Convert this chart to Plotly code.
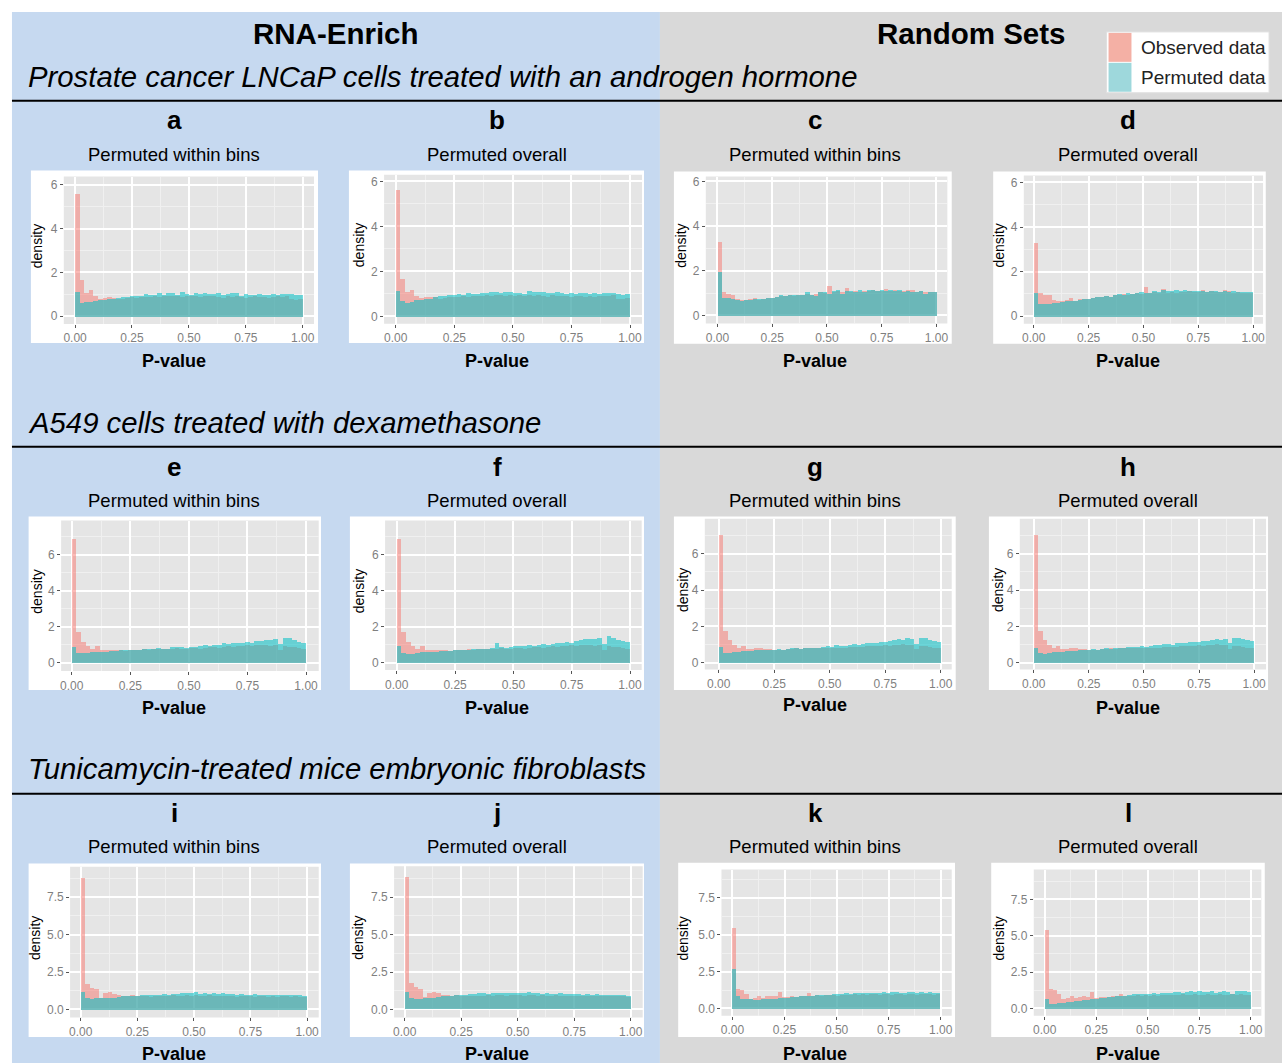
import numpy as np
import plotly.graph_objects as go

W, H = 1284, 1064

# ---------------- data (density per P-value bin, 50 bins of width 0.02) ----------------
BIN_WIDTH = 0.02
BIN_CENTERS = [round(BIN_WIDTH * (k + 0.5), 3) for k in range(50)]
X_TICKS = [0, 0.25, 0.5, 0.75, 1.0]
X_TICK_LABELS = ["0.00", "0.25", "0.50", "0.75", "1.00"]
Y_TICKS_ROW12 = [0, 2, 4, 6]
Y_TICK_LABELS_ROW12 = ["0", "2", "4", "6"]
Y_TICKS_ROW3 = [0, 2.5, 5.0, 7.5]
Y_TICK_LABELS_ROW3 = ["0.0", "2.5", "5.0", "7.5"]

# Row 1: Prostate cancer LNCaP
obs_rna_lncap = [5.62, 1.66, 1.10, 1.20, 0.92, 0.82, 0.85, 0.88, 0.86, 0.80,
                 0.82, 0.86, 0.88, 0.86, 0.90, 0.88, 0.90, 0.93, 0.90, 0.95,
                 0.92, 0.95, 0.95, 0.90, 0.96, 0.92, 0.95, 0.90, 0.95, 0.92,
                 0.95, 0.90, 0.86, 0.95, 0.90, 0.92, 0.90, 0.86, 0.90, 0.93,
                 0.88, 0.90, 0.86, 0.90, 0.93, 0.90, 0.95, 0.80, 0.78, 0.82]
perm_a = [1.12, 0.64, 0.65, 0.68, 0.70, 0.74, 0.78, 0.80, 0.82, 0.84,
          0.88, 0.90, 0.95, 0.96, 0.92, 1.02, 1.00, 1.00, 1.06, 1.00,
          1.06, 1.08, 1.00, 1.12, 1.05, 1.00, 1.08, 1.04, 1.10, 1.05,
          1.04, 1.08, 1.00, 1.02, 1.06, 1.08, 0.94, 1.05, 1.00, 1.00,
          1.05, 1.00, 1.00, 1.05, 1.00, 1.02, 1.05, 1.04, 1.00, 1.00]
perm_b = [1.15, 0.68, 0.60, 0.66, 0.74, 0.76, 0.80, 0.80, 0.86, 0.90,
          0.92, 0.95, 0.96, 1.00, 0.95, 1.04, 1.00, 1.02, 1.05, 1.06,
          1.08, 1.10, 1.04, 1.10, 1.08, 1.05, 1.06, 1.00, 1.12, 1.10,
          1.08, 1.10, 1.06, 1.05, 1.10, 1.04, 1.00, 1.06, 1.02, 1.05,
          1.04, 1.02, 1.06, 1.00, 1.05, 1.03, 1.06, 1.00, 0.98, 1.00]
obs_rand_lncap = [3.30, 1.05, 0.96, 0.95, 0.76, 0.70, 0.72, 0.76, 0.82, 0.72,
                  0.78, 0.80, 0.80, 0.85, 0.88, 0.90, 0.92, 0.90, 0.95, 0.95,
                  1.00, 0.95, 1.00, 1.05, 1.02, 1.35, 1.05, 1.10, 1.05, 1.26,
                  1.05, 1.10, 1.05, 1.10, 1.10, 1.15, 1.10, 1.12, 1.20, 1.12,
                  1.15, 1.10, 1.10, 1.18, 1.15, 1.08, 1.10, 1.05, 1.05, 1.05]
perm_c = [1.95, 0.80, 0.80, 0.75, 0.70, 0.68, 0.70, 0.72, 0.75, 0.76,
          0.78, 0.80, 0.82, 0.85, 0.95, 0.90, 0.92, 0.92, 0.93, 0.95,
          1.05, 0.95, 0.90, 1.05, 1.05, 1.00, 1.10, 1.15, 1.00, 1.10,
          1.10, 1.05, 1.15, 1.05, 1.15, 1.15, 1.10, 1.15, 1.10, 1.15,
          1.10, 1.15, 1.05, 1.10, 1.05, 1.06, 1.10, 1.00, 1.05, 1.05]
perm_d = [1.05, 0.55, 0.55, 0.56, 0.60, 0.62, 0.65, 0.68, 0.70, 0.72,
          0.75, 0.78, 0.80, 0.85, 0.86, 0.90, 0.92, 0.90, 0.95, 1.00,
          0.96, 1.05, 1.00, 1.05, 1.10, 1.05, 1.06, 1.15, 1.10, 1.20,
          1.15, 1.16, 1.20, 1.15, 1.20, 1.15, 1.16, 1.15, 1.16, 1.10,
          1.15, 1.16, 1.10, 1.15, 1.10, 1.15, 1.10, 1.12, 1.10, 1.10]

# Row 2: A549 + dexamethasone
obs_rna_a549 = [6.90, 1.75, 1.20, 0.95, 0.80, 0.95, 0.72, 0.76, 0.76, 0.75,
                0.72, 0.70, 0.72, 0.74, 0.72, 0.78, 0.75, 0.80, 0.78, 0.80,
                0.82, 0.80, 0.85, 0.82, 0.80, 0.85, 0.84, 0.80, 0.85, 0.88,
                0.90, 0.85, 0.90, 0.95, 0.90, 0.95, 0.96, 1.00, 0.95, 1.00,
                1.00, 1.02, 0.98, 1.00, 0.75, 0.95, 0.92, 0.88, 0.85, 0.80]
perm_e = [0.90, 0.55, 0.55, 0.56, 0.60, 0.60, 0.62, 0.65, 0.66, 0.70,
          0.72, 0.72, 0.75, 0.75, 0.72, 0.80, 0.80, 0.78, 0.85, 0.82,
          0.80, 0.90, 0.88, 0.92, 0.85, 0.92, 0.90, 0.95, 1.00, 0.98,
          1.02, 1.00, 1.10, 1.05, 1.15, 1.10, 1.15, 1.20, 1.15, 1.25,
          1.25, 1.30, 1.30, 1.35, 1.05, 1.40, 1.38, 1.30, 1.20, 1.15]
perm_f = [0.95, 0.55, 0.50, 0.50, 0.55, 0.60, 0.60, 0.62, 0.65, 0.68,
          0.70, 0.70, 0.72, 0.72, 0.75, 0.75, 0.78, 0.80, 0.78, 0.82,
          0.85, 1.10, 0.88, 0.85, 0.90, 0.95, 0.96, 0.95, 1.00, 0.98,
          1.00, 1.05, 1.00, 1.05, 1.10, 1.15, 1.20, 1.15, 1.25, 1.30,
          1.35, 1.35, 1.35, 1.40, 1.05, 1.50, 1.40, 1.30, 1.25, 1.20]
obs_rand_a549 = [7.05, 1.75, 1.25, 1.00, 0.80, 0.95, 0.75, 0.75, 0.80, 0.85,
                 0.78, 0.75, 0.72, 0.74, 0.72, 0.76, 0.75, 0.80, 0.78, 0.80,
                 0.82, 0.80, 0.85, 0.82, 0.80, 0.85, 0.84, 0.82, 0.85, 0.88,
                 0.90, 0.86, 0.90, 0.95, 0.92, 0.95, 0.96, 1.00, 0.95, 1.00,
                 1.00, 1.02, 0.98, 1.00, 0.75, 0.95, 0.92, 0.88, 0.85, 0.82]
perm_g = [0.90, 0.55, 0.55, 0.60, 0.62, 0.65, 0.65, 0.68, 0.70, 0.70,
          0.72, 0.72, 0.74, 0.75, 0.72, 0.78, 0.80, 0.82, 0.78, 0.85,
          0.82, 0.84, 0.85, 0.88, 0.92, 0.90, 1.00, 0.92, 0.95, 1.00,
          1.02, 1.00, 1.05, 1.08, 1.10, 1.12, 1.15, 1.18, 1.20, 1.25,
          1.30, 1.28, 1.35, 1.30, 1.05, 1.40, 1.35, 1.25, 1.20, 1.15]
perm_h = [0.85, 0.55, 0.52, 0.55, 0.58, 0.60, 0.62, 0.64, 0.66, 0.68,
          0.70, 0.72, 0.72, 0.75, 0.74, 0.78, 0.80, 0.76, 0.82, 0.84,
          0.85, 0.88, 0.86, 0.90, 0.92, 0.90, 0.95, 0.98, 1.00, 1.02,
          1.05, 1.00, 1.08, 1.10, 1.10, 1.15, 1.18, 1.15, 1.20, 1.22,
          1.25, 1.30, 1.28, 1.32, 1.10, 1.40, 1.35, 1.30, 1.28, 1.20]

# Row 3: Tunicamycin MEF
obs_rna_mef = [8.80, 1.73, 1.47, 1.35, 0.80, 1.10, 1.18, 1.05, 0.95, 0.92,
               0.90, 0.95, 0.90, 0.88, 0.90, 0.85, 0.90, 0.88, 0.92, 0.90,
               0.95, 0.92, 0.90, 0.95, 0.92, 0.95, 0.90, 0.92, 0.95, 0.90,
               0.92, 0.88, 0.90, 0.92, 0.85, 0.90, 0.88, 0.90, 0.85, 0.88,
               0.90, 0.85, 0.88, 0.85, 0.90, 0.88, 0.85, 0.88, 0.85, 0.82]
perm_i = [1.20, 0.75, 0.70, 0.75, 0.75, 0.75, 0.80, 0.80, 0.85, 0.90,
          0.90, 0.92, 0.92, 0.95, 0.95, 1.00, 0.98, 1.00, 1.05, 1.00,
          1.05, 1.05, 1.08, 1.10, 1.10, 1.15, 1.05, 1.10, 1.05, 1.08,
          1.05, 1.10, 1.05, 1.05, 1.00, 1.05, 1.00, 1.00, 1.05, 0.98,
          1.00, 0.98, 0.95, 1.00, 0.95, 1.00, 0.98, 0.95, 0.95, 0.92]
perm_j = [1.15, 0.72, 0.70, 0.70, 0.72, 0.75, 0.75, 0.80, 0.85, 0.85,
          0.90, 0.92, 0.95, 0.95, 1.00, 1.00, 1.05, 1.05, 1.02, 1.05,
          1.08, 1.05, 1.05, 1.10, 1.10, 1.05, 1.10, 1.15, 1.10, 1.05,
          1.00, 1.05, 1.00, 1.00, 1.05, 1.00, 1.00, 1.02, 1.00, 0.95,
          1.00, 0.98, 1.00, 0.95, 0.98, 0.95, 0.95, 0.95, 0.92, 0.85]
obs_rand_mef = [5.45, 1.35, 1.30, 1.00, 0.70, 0.72, 0.90, 0.72, 0.85, 0.88,
                0.85, 1.15, 0.78, 0.80, 0.85, 0.82, 0.88, 0.90, 1.05, 0.90,
                0.92, 0.90, 0.95, 0.92, 0.95, 0.90, 0.95, 0.92, 0.95, 0.98,
                0.95, 0.98, 0.95, 1.00, 0.98, 0.95, 1.00, 0.98, 0.95, 1.00,
                0.98, 0.95, 1.00, 0.98, 0.95, 1.00, 0.98, 1.00, 0.95, 0.98]
perm_k = [2.70, 0.85, 0.70, 0.70, 0.65, 0.62, 0.62, 0.65, 0.68, 0.70,
          0.70, 0.72, 0.72, 0.75, 0.80, 0.80, 0.85, 0.85, 0.88, 0.90,
          0.92, 0.95, 0.95, 0.95, 1.00, 1.00, 0.98, 1.05, 1.00, 1.05,
          1.05, 1.05, 1.10, 1.10, 1.05, 1.10, 1.12, 1.10, 1.15, 1.12,
          1.10, 1.10, 1.15, 1.12, 1.05, 1.15, 1.10, 1.15, 1.10, 1.05]
perm_l = [0.65, 0.35, 0.35, 0.38, 0.40, 0.45, 0.50, 0.52, 0.55, 0.60,
          0.62, 0.65, 0.70, 0.75, 0.75, 0.80, 0.85, 0.88, 0.90, 0.92,
          0.95, 1.00, 1.05, 1.00, 1.05, 1.05, 1.10, 1.05, 1.10, 1.12,
          1.10, 1.15, 1.15, 1.10, 1.15, 1.20, 1.15, 1.20, 1.15, 1.15,
          1.20, 1.10, 1.15, 1.20, 1.15, 1.05, 1.20, 1.20, 1.20, 1.15]

PANEL_LETTERS = ["a", "b", "c", "d", "e", "f", "g", "h", "i", "j", "k", "l"]
PANEL_SUBTITLES = ["Permuted within bins", "Permuted overall"] * 6
OBSERVED = [obs_rna_lncap, obs_rna_lncap, obs_rand_lncap, obs_rand_lncap,
            obs_rna_a549, obs_rna_a549, obs_rand_a549, obs_rand_a549,
            obs_rna_mef, obs_rna_mef, obs_rand_mef, obs_rand_mef]
PERMUTED = [perm_a, perm_b, perm_c, perm_d, perm_e, perm_f,
            perm_g, perm_h, perm_i, perm_j, perm_k, perm_l]
COLUMN_HEADERS = ["RNA-Enrich", "Random Sets"]
ROW_TITLES = ["Prostate cancer LNCaP cells treated with an androgen hormone",
              "A549 cells treated with dexamethasone",
              "Tunicamycin-treated mice embryonic fibroblasts"]
LEGEND_LABELS = ["Observed data", "Permuted data"]

# ---------------- layout geometry (pixels) ----------------
GEOM = [
    dict(g=(62, 313, 175, 323), xc=(73.3, 301.7), yc=(315, 183.3, 6), w=(29, 317, 169, 342), dx=35),
    dict(g=(383.3, 642, 173.3, 322.7), xc=(395, 630), yc=(315.3, 180, 6), w=(348, 644, 169, 342), dx=358),
    dict(g=(706, 948.3, 175, 322.3), xc=(717.7, 937.3), yc=(314.3, 180, 6), w=(674, 952.7, 170, 342.7), dx=681),
    dict(g=(1025, 1265, 174, 322.7), xc=(1035, 1255), yc=(315, 181, 6), w=(994.3, 1267.7, 170, 342.7), dx=1000),
    dict(g=(59.3, 317.7, 520, 671), xc=(70, 305), yc=(662.7, 554.3, 6), w=(26.7, 320, 516, 690), dx=35),
    dict(g=(384.3, 641.7, 520, 670), xc=(396, 630), yc=(662.7, 554.3, 6), w=(349, 644, 516, 690), dx=358),
    dict(g=(705, 952.7, 518.3, 669.3), xc=(719, 941.7), yc=(662.7, 553.3, 6), w=(674, 956.7, 516, 690), dx=683),
    dict(g=(1021, 1268, 518.3, 669.3), xc=(1035, 1256), yc=(662.7, 553.3, 6), w=(990, 1270, 516, 690), dx=999),
    dict(g=(68.3, 317.7, 867.3, 1018.3), xc=(79, 306), yc=(1010.3, 897.7, 7.5), w=(26.7, 320, 864, 1038), dx=33),
    dict(g=(393.3, 642.7, 866.7, 1018.3), xc=(404, 630.7), yc=(1010.3, 897.7, 7.5), w=(349, 644, 864, 1038), dx=357),
    dict(g=(721.7, 952.7, 870, 1016.7), xc=(732.7, 941.7), yc=(1009.3, 898.3, 7.5), w=(678.3, 956, 863.3, 1038), dx=683),
    dict(g=(1035, 1263.3, 870, 1016.7), xc=(1046, 1252.7), yc=(1009.3, 900, 7.5), w=(992.3, 1266.7, 863.3, 1038), dx=1000),
]
COL_CENTERS = [173, 497, 816, 1130]
LETTER_Y = [118, 466, 813]
SUBTITLE_Y = [153, 500, 847]
PVALUE_Y = [360, 708, 1055]
ROWTITLE_Y = [75, 422, 769]
RULE_Y = [99, 446, 794]

FONT = "Liberation Sans, Arial, sans-serif"
OBS_COLOR = "rgba(248,118,109,0.5)"
PERM_COLOR = "rgba(0,191,196,0.55)"
PANEL_BG = "#e5e5e5"


def px(x):
    return x / W


def py(y):
    return 1 - y / H


fig = go.Figure()
shapes = []
annotations = []

shapes.append(dict(type="rect", xref="paper", yref="paper", x0=px(10), x1=px(660), y0=py(1064), y1=py(10),
                   fillcolor="#c6d9f0", line_width=0, layer="below"))
shapes.append(dict(type="rect", xref="paper", yref="paper", x0=px(660), x1=px(1284), y0=py(1064), y1=py(10),
                   fillcolor="#d9d9d9", line_width=0, layer="below"))

for n in range(12):
    geo = GEOM[n]
    gx0, gx1, gy0, gy1 = geo["g"]
    X0, X1 = geo["xc"]
    Y0, Yt, tv = geo["yc"]
    wx0, wx1, wy0, wy1 = geo["w"]
    row = n // 4
    col = n % 4
    suffix = "" if n == 0 else str(n + 1)

    xr = [(gx0 - X0) / (X1 - X0), (gx1 - X0) / (X1 - X0)]
    ppu = (Y0 - Yt) / tv
    yr = [(Y0 - gy1) / ppu, (Y0 - gy0) / ppu]

    shapes.append(dict(type="rect", xref="paper", yref="paper", x0=px(wx0), x1=px(wx1), y0=py(wy1), y1=py(wy0),
                       fillcolor="white", line_width=0, layer="below"))
    shapes.append(dict(type="rect", xref="paper", yref="paper", x0=px(gx0), x1=px(gx1), y0=py(gy1), y1=py(gy0),
                       fillcolor=PANEL_BG, line_width=0, layer="below"))

    fig.add_trace(go.Bar(x=BIN_CENTERS, y=OBSERVED[n], width=BIN_WIDTH, marker=dict(color=OBS_COLOR, line_width=0),
                         xaxis="x" + suffix, yaxis="y" + suffix, showlegend=False, hoverinfo="skip"))
    fig.add_trace(go.Bar(x=BIN_CENTERS, y=PERMUTED[n], width=BIN_WIDTH, marker=dict(color=PERM_COLOR, line_width=0),
                         xaxis="x" + suffix, yaxis="y" + suffix, showlegend=False, hoverinfo="skip"))

    if row < 2:
        yt, ytl, yminor = Y_TICKS_ROW12, Y_TICK_LABELS_ROW12, [1, 3, 5, 7]
    else:
        yt, ytl, yminor = Y_TICKS_ROW3, Y_TICK_LABELS_ROW3, [1.25, 3.75, 6.25, 8.75]

    axis_common = dict(showline=False, zeroline=False, ticks="outside", ticklen=3, tickwidth=1,
                       tickcolor="#555555", tickfont=dict(family=FONT, size=12, color="#7f7f7f"),
                       showgrid=True, gridcolor="white", gridwidth=1.7, fixedrange=True)
    fig.update_layout(**{
        "xaxis" + suffix: dict(domain=[px(gx0), px(gx1)], range=xr, anchor="y" + suffix,
                               tickmode="array", tickvals=X_TICKS, ticktext=X_TICK_LABELS,
                               minor=dict(tickmode="array", tickvals=[0.125, 0.375, 0.625, 0.875],
                                          showgrid=True, gridcolor="#f0f0f0", gridwidth=0.7, ticks=""),
                               **axis_common),
        "yaxis" + suffix: dict(domain=[py(gy1), py(gy0)], range=yr, anchor="x" + suffix,
                               tickmode="array", tickvals=yt, ticktext=ytl,
                               minor=dict(tickmode="array", tickvals=yminor,
                                          showgrid=True, gridcolor="#f0f0f0", gridwidth=0.7, ticks=""),
                               **axis_common),
    })

    annotations.append(dict(text="density", x=px(geo["dx"]), y=py((gy0 + gy1) / 2 - 4), xref="paper", yref="paper",
                            textangle=-90, showarrow=False, xanchor="center", yanchor="middle",
                            font=dict(family=FONT, size=14, color="black")))
    cx = COL_CENTERS[col]
    annotations.append(dict(text="<b>" + PANEL_LETTERS[n] + "</b>", x=px(cx), y=py(LETTER_Y[row]), xref="paper",
                            yref="paper", showarrow=False, xanchor="center", yanchor="middle",
                            font=dict(family=FONT, size=26, color="black")))
    annotations.append(dict(text=PANEL_SUBTITLES[n], x=px(cx), y=py(SUBTITLE_Y[row]), xref="paper",
                            yref="paper", showarrow=False, xanchor="center", yanchor="middle",
                            font=dict(family=FONT, size=18.5, color="black")))
    annotations.append(dict(text="<b>P-value</b>", x=px(cx), y=py(PVALUE_Y[row] - (3 if n == 6 else 0)),
                            xref="paper", yref="paper", showarrow=False, xanchor="center", yanchor="middle",
                            font=dict(family=FONT, size=18, color="black")))

for hx, htxt in zip([335, 973], COLUMN_HEADERS):
    annotations.append(dict(text="<b>" + htxt + "</b>", x=px(hx), y=py(32), xref="paper", yref="paper",
                            showarrow=False, xanchor="center", yanchor="middle",
                            font=dict(family=FONT, size=29.5, color="black")))
for r in range(3):
    annotations.append(dict(text="<i>" + ROW_TITLES[r] + "</i>", x=px(24), y=py(ROWTITLE_Y[r]), xref="paper",
                            yref="paper", showarrow=False, xanchor="left", yanchor="middle",
                            font=dict(family=FONT, size=29.3, color="black")))
    shapes.append(dict(type="line", xref="paper", yref="paper", x0=px(10), x1=1, y0=py(RULE_Y[r]),
                       y1=py(RULE_Y[r]), line=dict(color="black", width=2), layer="above"))

shapes.append(dict(type="rect", xref="paper", yref="paper", x0=px(1108), x1=px(1271), y0=py(91), y1=py(30),
                   fillcolor="white", line=dict(color="#e0e0e0", width=1), layer="above"))
shapes.append(dict(type="rect", xref="paper", yref="paper", x0=px(1110), x1=px(1133), y0=py(60), y1=py(31),
                   fillcolor="#f4b0a5", line_width=0, layer="above"))
shapes.append(dict(type="rect", xref="paper", yref="paper", x0=px(1110), x1=px(1133), y0=py(90), y1=py(61),
                   fillcolor="#9ed8dc", line_width=0, layer="above"))
for ly, lt in zip([46, 76], LEGEND_LABELS):
    annotations.append(dict(text=lt, x=px(1141), y=py(ly), xref="paper", yref="paper", showarrow=False,
                            xanchor="left", yanchor="middle", font=dict(family=FONT, size=19, color="#222222")))

fig.update_layout(width=W, height=H, margin=dict(l=0, r=0, t=0, b=0), paper_bgcolor="white",
                  plot_bgcolor="rgba(0,0,0,0)", barmode="overlay", bargap=0, showlegend=False,
                  shapes=shapes, annotations=annotations)

fig.write_html("out.html")
